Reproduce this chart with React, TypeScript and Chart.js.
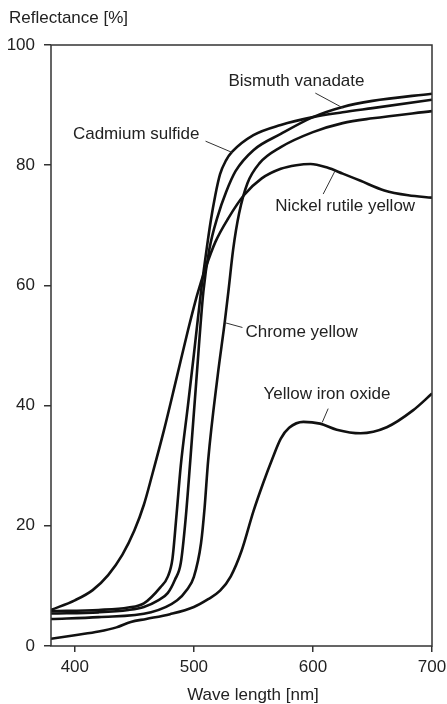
import React, { useEffect, useRef } from "react";
import { Chart, registerables } from "chart.js";

Chart.register(...registerables);

// Reflectance curves of yellow pigments, wavelength in nm and reflectance in %
const nickelNm = [380, 400, 415, 428, 440, 450, 458, 465, 475, 485, 495, 503, 510, 518, 529, 542, 557, 573, 586, 598, 612, 625, 640, 660, 680, 700];
const nickelPct = [6.0, 7.6, 9.3, 11.8, 15.2, 19.2, 23.5, 28.5, 36, 44.2, 52.5, 58.6, 63, 67.2, 71.2, 75, 77.8, 79.4, 80, 80.2, 79.6, 78.6, 77.4, 75.8, 75, 74.6];

const cadmiumNm = [380, 420, 445, 458, 472, 478, 482, 485.5, 489, 495, 500, 506, 510, 514, 518, 522, 527, 532, 550, 573, 600, 625, 650, 700];
const cadmiumPct = [5.8, 6.0, 6.4, 7.1, 9.8, 11.5, 14.5, 22, 30, 40, 48.5, 59, 65, 70.5, 75, 78.5, 80.8, 82.2, 85, 86.7, 88, 88.8, 89.5, 90.9];

const bismuthNm = [380, 420, 445, 458, 470, 478, 484, 489, 493, 497, 502, 508, 513, 520, 527, 535, 550, 573, 600, 625, 650, 700];
const bismuthPct = [5.4, 5.6, 6.0, 6.5, 7.6, 8.8, 11, 13.8, 21, 30.9, 44, 59, 66, 71.5, 75.5, 79, 82.5, 85.2, 88, 89.7, 90.7, 91.9];

const chromeNm = [380, 420, 464, 486, 494, 500, 506, 509, 512, 520, 526, 529, 533, 538, 545, 555, 573, 600, 625, 650, 700];
const chromePct = [4.5, 4.8, 5.6, 7.6, 9.3, 11.5, 17.1, 23, 30.9, 45, 54, 59, 66, 72, 77, 80.3, 83, 85.5, 87, 87.8, 89];

const ironNm = [380, 400, 420, 435, 447, 460, 480, 500, 512, 522, 531, 540, 550, 558, 566, 573, 580, 592, 606, 620, 640, 662, 684, 700];
const ironPct = [1.2, 1.8, 2.4, 3.1, 4.0, 4.5, 5.3, 6.5, 7.8, 9.2, 11.6, 15.8, 22.4, 27, 31.2, 34.5, 36.3, 37.3, 37, 36, 35.4, 36.4, 39.2, 42];

const xTicks = [400, 500, 600, 700];
const yTicks = [0, 20, 40, 60, 80, 100];

// Curve names with their text anchor and leader line, in axis units
const labelText = ["Bismuth vanadate", "Cadmium sulfide", "Nickel rutile yellow", "Chrome yellow", "Yellow iron oxide"];
const labelNm = [529, 398.4, 568.4, 543.3, 558.4];
const labelPct = [94, 85.2, 73.1, 52.2, 41.9];
const leaderFromNm = [602, 509.8, 608.6, 540.8, 612.8];
const leaderFromPct = [92, 84, 75.2, 53, 39.5];
const leaderToNm = [625.4, 532.4, 618.7, 526, 607.8];
const leaderToPct = [89.5, 82.1, 79.1, 53.8, 37.2];

const FONT = "'Liberation Sans', Arial, sans-serif";
const TEXT = "#222";

const toPoints = (xs: number[], ys: number[]) => xs.map((x, i) => ({ x, y: ys[i] }));

const annotate = {
  id: "annotate",
  afterDraw(chart: any) {
    const { ctx, chartArea, scales } = chart;
    const sx = scales.x;
    const sy = scales.y;
    ctx.save();
    // frame
    ctx.strokeStyle = "#333";
    ctx.lineWidth = 1.5;
    ctx.strokeRect(chartArea.left, chartArea.top, chartArea.right - chartArea.left, chartArea.bottom - chartArea.top);

    // leader lines
    ctx.lineWidth = 1;
    ctx.strokeStyle = "#333";
    labelText.forEach((_, i) => {
      ctx.beginPath();
      ctx.moveTo(sx.getPixelForValue(leaderFromNm[i]), sy.getPixelForValue(leaderFromPct[i]));
      ctx.lineTo(sx.getPixelForValue(leaderToNm[i]), sy.getPixelForValue(leaderToPct[i]));
      ctx.stroke();
    });

    // curve names
    ctx.fillStyle = TEXT;
    ctx.font = `17px ${FONT}`;
    ctx.textAlign = "left";
    ctx.textBaseline = "middle";
    labelText.forEach((t, i) => {
      ctx.fillText(t, sx.getPixelForValue(labelNm[i]), sy.getPixelForValue(labelPct[i]));
    });

    // axis captions
    ctx.fillText("Reflectance [%]", 9, 18);
    ctx.textAlign = "center";
    ctx.fillText("Wave length [nm]", 253, 695);
    ctx.restore();
  },
};

export default function App() {
  const ref = useRef<HTMLCanvasElement | null>(null);

  useEffect(() => {
    if (!ref.current) return;
    const line = (xs: number[], ys: number[], label: string) => ({
      label,
      data: toPoints(xs, ys),
      borderColor: "#111",
      borderWidth: 2.6,
      pointRadius: 0,
      fill: false,
      cubicInterpolationMode: "monotone" as const,
    });
    const chart = new Chart(ref.current, {
      type: "line",
      data: {
        datasets: [
          line(nickelNm, nickelPct, "Nickel rutile yellow"),
          line(cadmiumNm, cadmiumPct, "Cadmium sulfide"),
          line(bismuthNm, bismuthPct, "Bismuth vanadate"),
          line(chromeNm, chromePct, "Chrome yellow"),
          line(ironNm, ironPct, "Yellow iron oxide"),
        ],
      },
      options: {
        responsive: false,
        animation: false,
        devicePixelRatio: 1,
        layout: { padding: { top: 45, right: 15, bottom: 0, left: 0 } },
        plugins: { legend: { display: false }, tooltip: { enabled: false }, title: { display: false } },
        scales: {
          x: {
            type: "linear",
            min: 380,
            max: 700,
            afterBuildTicks: (s: any) => {
              s.ticks = xTicks.map((v) => ({ value: v }));
            },
            afterFit: (s: any) => {
              s.height = 58;
              s.paddingLeft = 0;
              s.paddingRight = 0;
            },
            grid: { display: true, drawOnChartArea: false, drawTicks: true, tickLength: 6, tickColor: "#333", lineWidth: 1.5 },
            border: { display: false },
            ticks: { color: TEXT, font: { family: FONT, size: 17 }, padding: 5, maxRotation: 0 },
          },
          y: {
            type: "linear",
            min: 0,
            max: 100,
            afterBuildTicks: (s: any) => {
              s.ticks = yTicks.map((v) => ({ value: v }));
            },
            afterFit: (s: any) => {
              s.width = 51;
              s.paddingTop = 0;
              s.paddingBottom = 0;
            },
            grid: { display: true, drawOnChartArea: false, drawTicks: true, tickLength: 7, tickColor: "#333", lineWidth: 1.5 },
            border: { display: false },
            ticks: { color: TEXT, font: { family: FONT, size: 17 }, padding: 9 },
          },
        },
      },
      plugins: [annotate],
    });
    return () => chart.destroy();
  }, []);

  return (
    <div style={{ position: "fixed", left: 0, top: 0, width: 447, height: 704, background: "#fff" }}>
      <canvas ref={ref} width={447} height={704} style={{ display: "block" }} />
    </div>
  );
}
